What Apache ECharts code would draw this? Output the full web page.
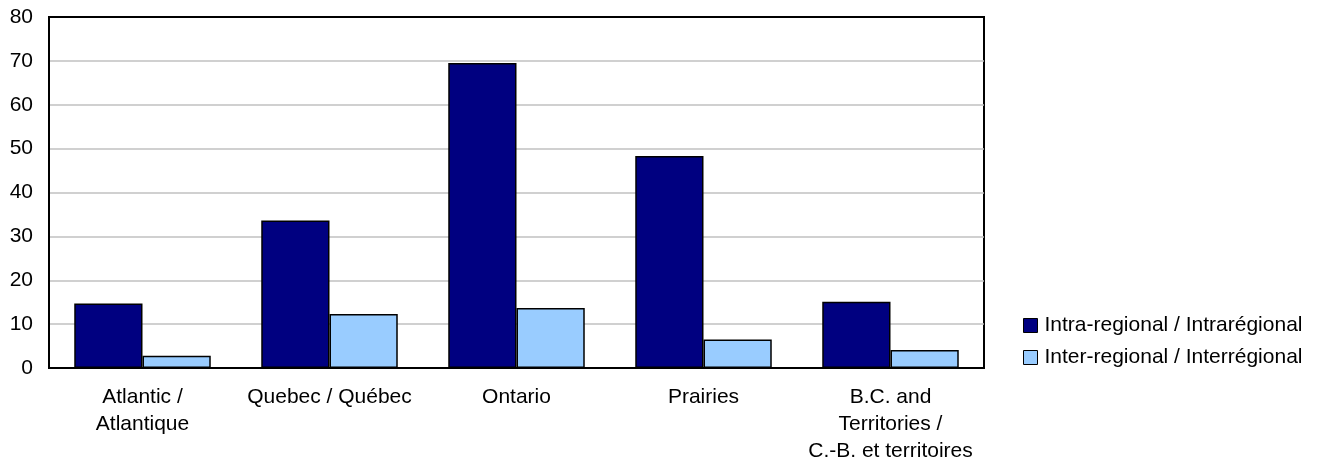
<!DOCTYPE html>
<html>
<head>
<meta charset="utf-8">
<script src="https://cdn.jsdelivr.net/npm/echarts@6/dist/echarts.min.js"></script>
<style>
  html, body { margin: 0; padding: 0; background: #fff; }
  #chart { width: 1320px; height: 465px; }
</style>
</head>
<body>
<div id="chart"></div>
<script>
// Regions along the x axis
const regions = [
  'Atlantic /\nAtlantique',
  'Quebec / Québec',
  'Ontario',
  'Prairies',
  'B.C. and\nTerritories /\nC.-B. et territoires'
];
// Series values per region
const intraRegional = [14.7, 33.6, 69.5, 48.3, 15.1];
const interRegional = [2.8, 12.3, 13.7, 6.5, 4.1];
const seriesNames = ['Intra-regional / Intrarégional', 'Inter-regional / Interrégional'];
// Value axis range
const yMin = 0, yMax = 80, yStep = 10;

const font = 'Liberation Sans, Arial, Helvetica, sans-serif';
const fontSize = 21;
const chart = echarts.init(document.getElementById('chart'));
chart.setOption({
  animation: false,
  backgroundColor: '#ffffff',
  grid: {
    left: 49, right: 336, top: 17, bottom: 96.5,
    show: true, borderColor: '#000', borderWidth: 2, backgroundColor: 'transparent'
  },
  legend: {
    orient: 'vertical',
    left: 1023, top: 315, padding: 0,
    itemWidth: 14, itemHeight: 14, itemGap: 11,
    icon: 'rect',
    textStyle: { fontFamily: font, fontSize: fontSize, color: '#000', padding: [0, 0, 0, 2] },
    itemStyle: { borderColor: '#000', borderWidth: 1 },
    data: seriesNames
  },
  xAxis: {
    type: 'category',
    data: regions,
    axisLine: { lineStyle: { color: '#000', width: 2 } },
    axisTick: { show: false },
    axisLabel: {
      fontFamily: font, fontSize: fontSize, color: '#000',
      lineHeight: 27, margin: 16, interval: 0, align: 'center'
    }
  },
  yAxis: {
    type: 'value',
    min: yMin, max: yMax, interval: yStep,
    axisLine: { show: true, lineStyle: { color: '#000', width: 2 } },
    axisTick: { show: false },
    splitLine: { showMaxLine: false, showMinLine: false, lineStyle: { color: '#c0c0c0', width: 1.5 } },
    axisLabel: { fontFamily: font, fontSize: fontSize, color: '#000', margin: 16 }
  },
  series: [
    {
      name: seriesNames[0], type: 'bar', data: intraRegional,
      barGap: '0%', barCategoryGap: '27%',
      itemStyle: { color: '#000080', borderColor: '#000', borderWidth: 1.5 }
    },
    {
      name: seriesNames[1], type: 'bar', data: interRegional,
      barGap: '0%', barCategoryGap: '27%',
      itemStyle: { color: '#99ccff', borderColor: '#000', borderWidth: 1.5 }
    }
  ]
});
</script>
</body>
</html>
